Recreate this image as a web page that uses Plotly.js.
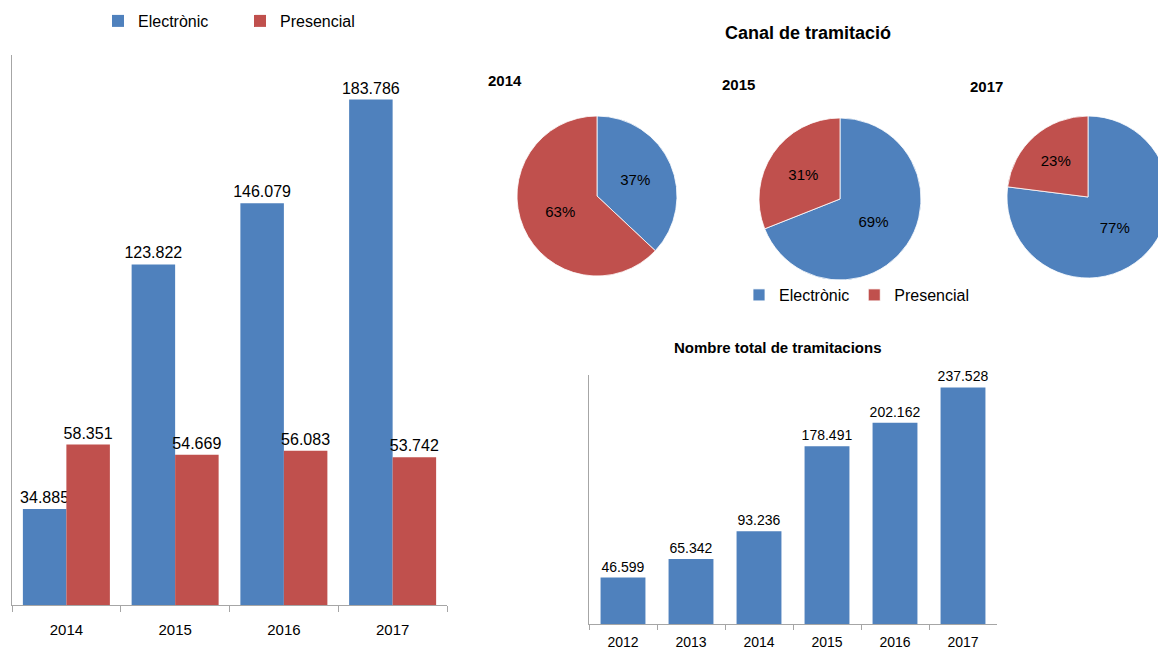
<!DOCTYPE html>
<html><head><meta charset="utf-8">
<script src="https://cdn.plot.ly/plotly-3.0.1.min.js"></script>
<style>html,body{margin:0;padding:0;overflow:hidden;width:1158px;height:650px;background:#fff}#chart{width:1200px;height:650px}</style>
</head><body><div id="chart"></div><script>
// ---- data ----
const years = ['2014', '2015', '2016', '2017'];
const electronic = [34885, 123822, 146079, 183786];
const presencial = [58351, 54669, 56083, 53742];
const seriesNames = ['Electrònic', 'Presencial'];
const pieYears = ['2014', '2015', '2017'];
const pie2014 = [37, 63];
const pie2015 = [69, 31];
const pie2017 = [77, 23];
const totalYears = ['2012', '2013', '2014', '2015', '2016', '2017'];
const totals = [46599, 65342, 93236, 178491, 202162, 237528];
const mainTitle = 'Canal de tramitació';
const totalTitle = 'Nombre total de tramitacions';

// ---- layout helpers ----
const W = 1200, H = 650;
const px = x => x / W;
const py = y => 1 - y / H;
const BLUE = '#4F81BD', RED = '#C0504D';
const FONT = 'Liberation Sans, Arial, sans-serif';
const AXC = '#A6A6A6';

const traces = [
  {type: 'bar', x: years, y: electronic, name: seriesNames[0], marker: {color: BLUE},
   texttemplate: '%{y:,}', textposition: 'outside', cliponaxis: false, constraintext: 'none',
   textfont: {size: 16, color: '#000'}, xaxis: 'x', yaxis: 'y', legend: 'legend'},
  {type: 'bar', x: years, y: presencial, name: seriesNames[1], marker: {color: RED},
   texttemplate: '%{y:,}', textposition: 'outside', cliponaxis: false, constraintext: 'none',
   textfont: {size: 16, color: '#000'}, xaxis: 'x', yaxis: 'y', legend: 'legend'},
];

const pieData = [pie2014, pie2015, pie2017];
const pieBoxes = [[517, 677, 116, 276], [759, 921, 118, 280], [1007, 1169, 116, 278]];
pieData.forEach((vals, i) => {
  const b = pieBoxes[i];
  traces.push({
    type: 'pie', labels: seriesNames, values: vals, sort: false, direction: 'clockwise',
    marker: {colors: [BLUE, RED], line: {color: '#ffffff', width: 0.8}},
    texttemplate: '%{percent:.0%}', textposition: 'inside',
    insidetextfont: {size: 15, color: '#000'}, insidetextorientation: 'horizontal',
    domain: {x: [px(b[0]), px(b[1])], y: [py(b[3]), py(b[2])]},
    legend: 'legend2', showlegend: i === 0, hoverinfo: 'none'
  });
});

traces.push({type: 'bar', x: totalYears, y: totals, marker: {color: BLUE}, width: 0.66,
  texttemplate: '%{y:,}', textposition: 'outside', cliponaxis: false, constraintext: 'none',
  textfont: {size: 14, color: '#000'}, xaxis: 'x2', yaxis: 'y2', showlegend: false});

const ann = (text, x, y, size) => ({text: '<b>' + text + '</b>', x: px(x), y: py(y), xref: 'paper', yref: 'paper',
  xanchor: 'center', yanchor: 'middle', showarrow: false, font: {size: size}});

const layout = {
  width: W, height: H, margin: {l: 0, r: 0, t: 0, b: 0},
  paper_bgcolor: '#fff', plot_bgcolor: 'rgba(0,0,0,0)',
  font: {family: FONT, color: '#000'}, separators: ',.',
  barmode: 'group', bargap: 0.2, bargroupgap: 0, hovermode: false,
  xaxis: {domain: [px(12), px(447)], type: 'category', showline: true, linecolor: AXC, linewidth: 1,
    ticks: 'outside', tickson: 'boundaries', ticklen: 6, tickcolor: AXC, tickfont: {size: 15},
    ticklabelstandoff: 11, showgrid: false, zeroline: false, anchor: 'y', fixedrange: true},
  yaxis: {domain: [py(605), py(55)], range: [0, 200000], showline: true, linecolor: AXC,
    showticklabels: false, ticks: '', showgrid: false, zeroline: false, anchor: 'x', fixedrange: true},
  xaxis2: {domain: [px(589), px(997)], type: 'category', showline: true, linecolor: AXC,
    ticks: 'outside', tickson: 'boundaries', ticklen: 5, tickcolor: AXC, tickfont: {size: 14},
    ticklabelstandoff: 5, showgrid: false, zeroline: false, anchor: 'y2', fixedrange: true},
  yaxis2: {domain: [py(624), py(375)], range: [0, 250000], showline: true, linecolor: AXC,
    showticklabels: false, ticks: '', showgrid: false, zeroline: false, anchor: 'x2', fixedrange: true},
  legend: {orientation: 'h', x: px(98), xanchor: 'left', y: py(21), yanchor: 'middle',
    font: {size: 16}, bgcolor: 'rgba(0,0,0,0)', entrywidth: 97, traceorder: 'normal'},
  legend2: {orientation: 'h', x: px(739), xanchor: 'left', y: py(295), yanchor: 'middle',
    font: {size: 16}, bgcolor: 'rgba(0,0,0,0)', traceorder: 'normal'},
  annotations: [
    ann(mainTitle, 808, 33, 18),
    ann(pieYears[0], 505, 80, 15),
    ann(pieYears[1], 738, 84, 15),
    ann(pieYears[2], 986, 86, 15),
    ann(totalTitle, 778, 347, 15)
  ]
};

Plotly.newPlot('chart', traces, layout, {displayModeBar: false, staticPlot: true});
</script></body></html>
